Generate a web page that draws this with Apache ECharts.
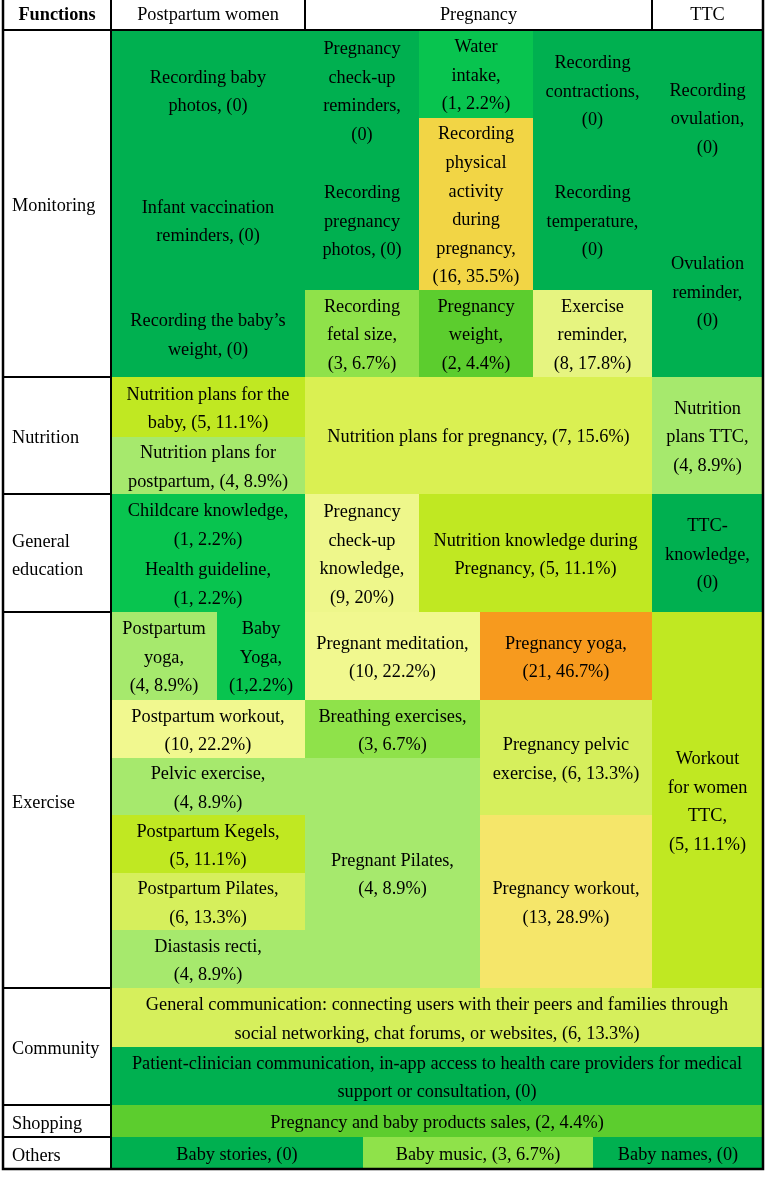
<!DOCTYPE html>
<html>
<head>
	<meta charset="utf-8" />
	<title>App functions</title>
	<script type="text/javascript" src="https://cdn.jsdelivr.net/npm/echarts@6.0.0/dist/echarts.min.js"></script>
	<style type="text/css">
		body{ margin: 0; background: #fff; }
		#container{ width: 765px; height: 1200px; }
	</style>
</head>
<body>
<div id="container"></div>
<script type="text/javascript">
	// column headers and the function groups down the left side
	var headers = ['Functions', 'Postpartum women', 'Pregnancy', 'TTC'];
	var groups = ['Monitoring', 'Nutrition', 'General\neducation', 'Exercise', 'Community', 'Shopping', 'Others'];

	// feature cells, text as printed, and the number of apps for each
	var features = [
		'Recording baby\nphotos, (0)',
		'Infant vaccination\nreminders, (0)',
		'Recording the baby\u2019s\nweight, (0)',
		'Pregnancy\ncheck-up\nreminders,\n(0)',
		'Recording\npregnancy\nphotos, (0)',
		'Recording\nfetal size,\n(3, 6.7%)',
		'Water\nintake,\n(1, 2.2%)',
		'Recording\nphysical\nactivity\nduring\npregnancy,\n(16, 35.5%)',
		'Pregnancy\nweight,\n(2, 4.4%)',
		'Recording\ncontractions,\n(0)',
		'Recording\ntemperature,\n(0)',
		'Exercise\nreminder,\n(8, 17.8%)',
		'Recording\novulation,\n(0)',
		'Ovulation\nreminder,\n(0)',
		'Nutrition plans for the\nbaby, (5, 11.1%)',
		'Nutrition plans for\npostpartum, (4, 8.9%)',
		'Nutrition plans for pregnancy, (7, 15.6%)',
		'Nutrition\nplans TTC,\n(4, 8.9%)',
		'Childcare knowledge,\n(1, 2.2%)',
		'Health guideline,\n(1, 2.2%)',
		'Pregnancy\ncheck-up\nknowledge,\n(9, 20%)',
		'Nutrition knowledge during\nPregnancy, (5, 11.1%)',
		'TTC-\nknowledge,\n(0)',
		'Postpartum\nyoga,\n(4, 8.9%)',
		'Baby\nYoga,\n(1,2.2%)',
		'Pregnant meditation,\n(10, 22.2%)',
		'Pregnancy yoga,\n(21, 46.7%)',
		'Postpartum workout,\n(10, 22.2%)',
		'Breathing exercises,\n(3, 6.7%)',
		'Pregnancy pelvic\nexercise, (6, 13.3%)',
		'Pelvic exercise,\n(4, 8.9%)',
		'Pregnant Pilates,\n(4, 8.9%)',
		'Postpartum Kegels,\n(5, 11.1%)',
		'Postpartum Pilates,\n(6, 13.3%)',
		'Diastasis recti,\n(4, 8.9%)',
		'Pregnancy workout,\n(13, 28.9%)',
		'Workout\nfor women\nTTC,\n(5, 11.1%)',
		'General communication: connecting users with their peers and families through\nsocial networking, chat forums, or websites, (6, 13.3%)',
		'Patient-clinician communication, in-app access to health care providers for medical\nsupport or consultation, (0)',
		'Pregnancy and baby products sales, (2, 4.4%)',
		'Baby stories, (0)',
		'Baby music, (3, 6.7%)',
		'Baby names, (0)'
	];
	var counts = [
		0, 0, 0, 0, 0, 3, 1, 16, 2, 0, 0, 8, 0, 0,
		5, 4, 7, 4,
		1, 1, 9, 5, 0,
		4, 1, 10, 21, 10, 3, 6, 4, 4, 5, 6, 4, 13, 5,
		6, 0,
		2,
		0, 3, 0
	];

	// table layout: track edges, then which tracks each cell covers [c0, c1, r0, r1]
	var xEdges = [3, 111, 217, 305, 363, 419, 480, 533, 593, 652, 763];
	var yEdges = [-2, 30, 118, 150, 205, 290, 377, 437, 494, 553, 612, 700, 758, 815, 873, 930, 988, 1047, 1105, 1137, 1169];
	var headerSpans = [[0, 1], [1, 3], [3, 9], [9, 10]];
	var groupSpans = [[1, 6], [6, 8], [8, 10], [10, 16], [16, 18], [18, 19], [19, 20]];
	var featureSpans = [
		[1, 3, 1, 3], [1, 3, 3, 5], [1, 3, 5, 6],
		[3, 5, 1, 3], [3, 5, 3, 5], [3, 5, 5, 6],
		[5, 7, 1, 2], [5, 7, 2, 5], [5, 7, 5, 6],
		[7, 9, 1, 3], [7, 9, 3, 5], [7, 9, 5, 6],
		[9, 10, 1, 4], [9, 10, 4, 6],
		[1, 3, 6, 7], [1, 3, 7, 8], [3, 9, 6, 8], [9, 10, 6, 8],
		[1, 3, 8, 9], [1, 3, 9, 10], [3, 5, 8, 10], [5, 9, 8, 10], [9, 10, 8, 10],
		[1, 2, 10, 11], [2, 3, 10, 11], [3, 6, 10, 11], [6, 9, 10, 11],
		[1, 3, 11, 12], [3, 6, 11, 12], [6, 9, 11, 13],
		[1, 3, 12, 13], [3, 6, 12, 16],
		[1, 3, 13, 14], [1, 3, 14, 15], [1, 3, 15, 16],
		[6, 9, 13, 16], [9, 10, 10, 16],
		[1, 10, 16, 17], [1, 10, 17, 18],
		[1, 10, 18, 19],
		[1, 4, 19, 20], [4, 8, 19, 20], [8, 10, 19, 20]
	];

	// fill colour by number of apps
	var countColours = {
		0: '#00b050', 1: '#08c44f', 2: '#5ccd2e', 3: '#8fe24a', 4: '#a6e96d',
		5: '#c0e822', 6: '#d6ef5c', 7: '#daf052', 8: '#e6f480', 9: '#eef78b',
		10: '#f1f88f', 13: '#f5e66a', 16: '#f2d545', 21: '#f79a1e'
	};

	var font = 'Liberation Serif';

	function spanValue(s, extra){
		return [xEdges[s[0]], xEdges[s[1]], yEdges[s[2]], yEdges[s[3]]].concat(extra);
	}

	function box(api){
		var a = api.coord([api.value(0), api.value(2)]);
		var b = api.coord([api.value(1), api.value(3)]);
		return { x: a[0], y: a[1], width: b[0] - a[0], height: b[1] - a[1] };
	}

	var featureData = featureSpans.map(function(s, i){ return spanValue(s, [i]); });
	var headerData = headerSpans.map(function(s, i){ return spanValue([s[0], s[1], 0, 1], [i, 0]); });
	var groupData = groupSpans.map(function(s, i){ return spanValue([0, 1, s[0], s[1]], [i, 1]); });

	var chart = echarts.init(document.getElementById('container'));

	var options = {
		animation: false,
		grid: { left: 0, right: 0, top: 0, bottom: 0 },
		xAxis: { type: 'value', min: 0, max: 765, show: false },
		yAxis: { type: 'value', min: 0, max: 1200, inverse: true, show: false },
		series: [
			{
				type: 'custom',
				name: 'features',
				z: 2,
				encode: { x: [0, 1], y: [2, 3] },
				data: featureData,
				renderItem: function(params, api){
					var r = box(api);
					var i = api.value(4);
					return {
						type: 'group',
						children: [
							{ type: 'rect', shape: r, style: { fill: countColours[counts[i]] } },
							{
								type: 'text',
								style: {
									text: features[i],
									x: r.x + r.width / 2,
									y: r.y + r.height / 2 + 2,
									align: 'center',
									verticalAlign: 'middle',
									fontFamily: font,
									fontSize: 18.3,
									lineHeight: 28.6,
									fill: '#000'
								}
							}
						]
					};
				}
			},
			{
				type: 'custom',
				name: 'frame',
				z: 3,
				encode: { x: [0, 1], y: [2, 3] },
				data: headerData.concat(groupData),
				renderItem: function(params, api){
					var r = box(api);
					var i = api.value(4);
					var isHeader = api.value(5) === 0;
					return {
						type: 'group',
						children: [
							{ type: 'rect', shape: r, style: { fill: '#fff', stroke: '#000', lineWidth: 2 } },
							{
								type: 'text',
								style: {
									text: isHeader ? headers[i] : groups[i],
									x: isHeader ? r.x + r.width / 2 : r.x + 9,
									y: r.y + r.height / 2 + (isHeader ? 1 : 3),
									align: isHeader ? 'center' : 'left',
									verticalAlign: 'middle',
									fontFamily: font,
									fontSize: 18.3,
									fontWeight: isHeader && i === 0 ? 'bold' : 'normal',
									lineHeight: 28.6,
									fill: '#000'
								}
							}
						]
					};
				}
			},
			{
				type: 'custom',
				name: 'outline',
				z: 4,
				encode: { x: [0, 1], y: [2, 3] },
				data: [spanValue([0, 10, 0, 20], [])],
				renderItem: function(params, api){
					return { type: 'rect', shape: box(api), style: { fill: 'none', stroke: '#000', lineWidth: 2.5 } };
				}
			}
		]
	};

	chart.setOption(options);
</script>
</body>
</html>
